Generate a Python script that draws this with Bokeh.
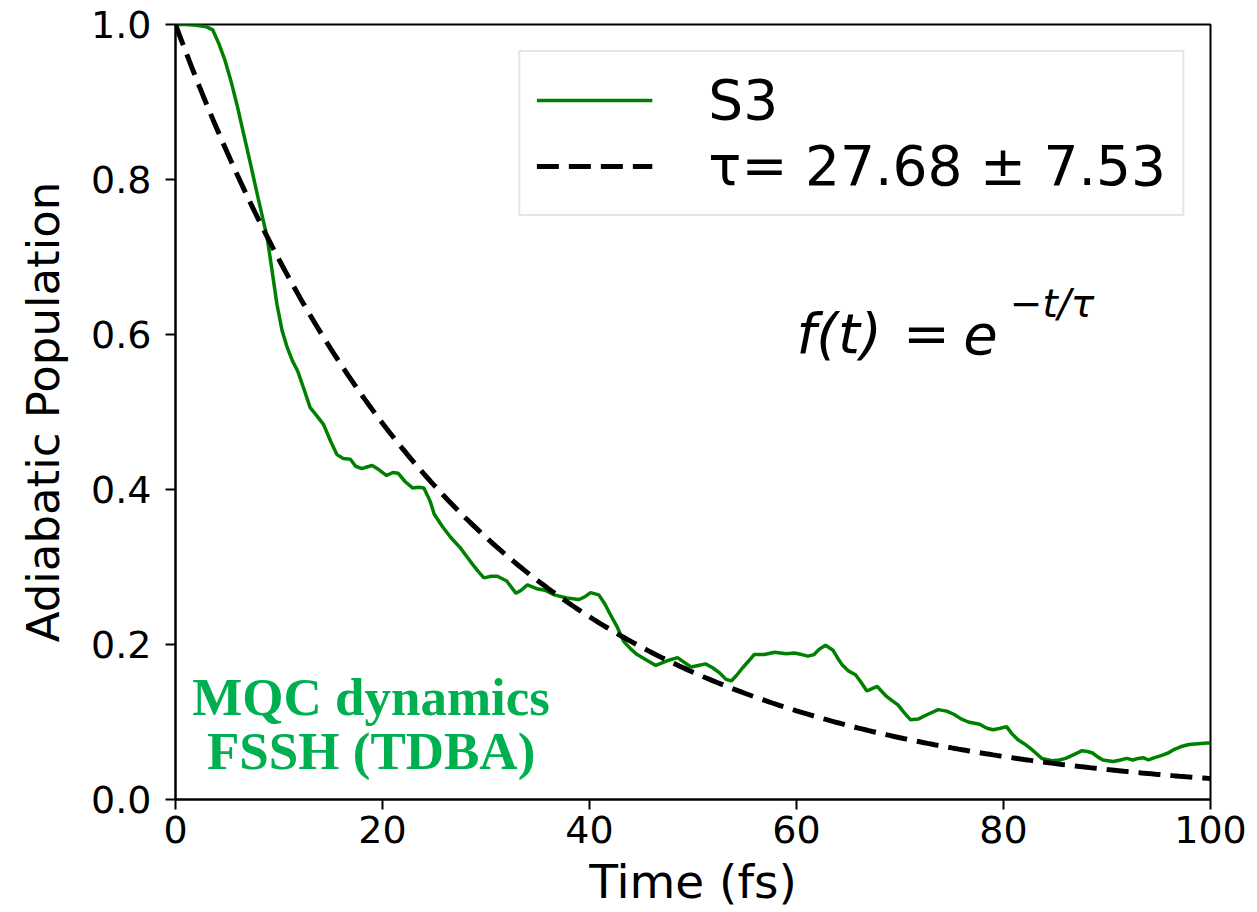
import numpy as np
from bokeh.plotting import figure
from bokeh.models import (Range1d, Legend, LegendItem, Label, FixedTicker,
                          NumeralTickFormatter)
from bokeh.embed import file_html
from bokeh.resources import INLINE

# ---------------- data ----------------
time_fs = [0, 1, 2, 3, 3.6, 4.2, 4.8, 5.4, 6.0, 6.6, 7.25, 8.0, 8.86, 9.3, 9.8,
           10.3, 10.8, 11.3, 11.8, 12.4, 13.0, 13.6, 14.3, 15.0, 15.6, 16.2, 16.9,
           17.4, 18.0, 18.5, 19.0, 19.6, 20.4, 21.0, 21.5, 22.2, 22.9, 23.5, 24.0,
           24.6, 25.0, 25.8, 26.6, 27.5, 28.5, 29.2, 29.8, 30.5, 31.1, 32.0, 32.9,
           33.4, 34.0, 34.9, 35.7, 36.6, 37.8, 39.0, 39.6, 40.1, 40.9, 41.5, 42.0,
           42.7, 43.3, 44.0, 44.6, 45.5, 46.4, 47.5, 48.5, 49.8, 50.5, 51.2, 51.9,
           52.6, 53.2, 53.7, 54.2, 54.8, 55.4, 55.9, 56.9, 57.9, 59.0, 59.8, 60.5,
           61.1, 61.7, 62.2, 62.8, 63.5, 64.0, 64.4, 65.0, 65.7, 66.2, 66.8, 67.3,
           67.8, 68.2, 68.7, 69.2, 69.8, 70.4, 71.0, 71.8, 72.7, 73.7, 74.5, 75.2,
           75.9, 76.6, 77.7, 78.4, 79.0, 79.7, 80.3, 80.8, 81.4, 82.0, 82.6, 83.2,
           83.7, 84.7, 85.4, 86.0, 86.8, 87.6, 88.1, 88.6, 89.1, 89.6, 90.6, 91.3,
           91.9, 92.5, 93.0, 93.5, 94.0, 94.6, 95.3, 95.9, 96.4, 97.1, 97.9, 98.8,
           99.7, 100]
s3_pop = [1.0, 1.0, 0.999, 0.997, 0.993, 0.975, 0.953, 0.925, 0.893, 0.858, 0.82,
          0.775, 0.725, 0.685, 0.639, 0.605, 0.583, 0.566, 0.553, 0.530, 0.506,
          0.496, 0.484, 0.462, 0.445, 0.440, 0.439, 0.430, 0.427, 0.429, 0.431,
          0.426, 0.418, 0.422, 0.421, 0.410, 0.402, 0.403, 0.402, 0.385, 0.368,
          0.352, 0.338, 0.325, 0.307, 0.295, 0.286, 0.288, 0.288, 0.282, 0.266,
          0.270, 0.277, 0.272, 0.270, 0.264, 0.260, 0.258, 0.262, 0.267, 0.264,
          0.252, 0.239, 0.222, 0.204, 0.194, 0.187, 0.180, 0.173, 0.179, 0.183,
          0.171, 0.173, 0.175, 0.170, 0.163, 0.155, 0.153, 0.160, 0.170, 0.179,
          0.187, 0.187, 0.190, 0.188, 0.189, 0.187, 0.185, 0.187, 0.194, 0.199,
          0.193, 0.182, 0.174, 0.166, 0.161, 0.152, 0.140, 0.143, 0.146, 0.140,
          0.133, 0.128, 0.122, 0.112, 0.103, 0.104, 0.110, 0.116, 0.114, 0.110,
          0.104, 0.100, 0.097, 0.092, 0.090, 0.092, 0.094, 0.085, 0.077, 0.072,
          0.066, 0.059, 0.053, 0.050, 0.051, 0.053, 0.058, 0.063, 0.062, 0.060,
          0.055, 0.051, 0.049, 0.051, 0.053, 0.051, 0.053, 0.054, 0.051, 0.054,
          0.057, 0.060, 0.064, 0.068, 0.071, 0.072, 0.073, 0.073]
tau = 27.68
tau_err = 7.53
x_ticks = [0, 20, 40, 60, 80, 100]
y_ticks = [0.0, 0.2, 0.4, 0.6, 0.8, 1.0]

fit_t = np.linspace(0, 100, 301)
fit_pop = np.exp(-fit_t / tau)

FONT = "DejaVu Sans"

p = figure(frame_width=1035, frame_height=775,
           min_border_left=175, min_border_right=47,
           min_border_top=24, min_border_bottom=113,
           x_range=Range1d(0, 100), y_range=Range1d(0, 1),
           output_backend="svg", toolbar_location=None)
p.background_fill_color = "white"
p.border_fill_color = "white"
p.outline_line_color = "black"
p.outline_line_width = 2
p.grid.visible = False

r_s3 = p.line(time_fs, s3_pop, line_color="#008000", line_width=3.5)
r_fit = p.line(fit_t, fit_pop, line_color="black", line_width=5, line_dash="22 10")

for ax in (p.xaxis[0], p.yaxis[0]):
    ax.axis_line_color = "black"
    ax.axis_line_width = 2
    ax.major_tick_line_color = "black"
    ax.major_tick_line_width = 2
    ax.major_tick_out = 10
    ax.major_tick_in = 0
    ax.minor_tick_line_color = None
    ax.major_label_text_font = FONT
    ax.major_label_text_font_size = "38px"
    ax.major_label_text_color = "black"
    ax.axis_label_text_font = FONT
    ax.axis_label_text_font_style = "normal"
    ax.axis_label_text_color = "black"

p.xaxis.axis_label_text_font_size = "47px"
p.yaxis.axis_label_text_font_size = "45px"
p.xaxis.ticker = FixedTicker(ticks=x_ticks)
p.yaxis.ticker = FixedTicker(ticks=y_ticks)
p.yaxis.formatter = NumeralTickFormatter(format="0.0")
p.xaxis.axis_label = "Time (fs)"
p.yaxis.axis_label = "Adiabatic Population"
p.xaxis.major_label_standoff = 6
p.xaxis.axis_label_standoff = 8
p.yaxis.major_label_standoff = 14
p.yaxis.axis_label_standoff = 18

legend = Legend(items=[
    LegendItem(label="S3", renderers=[r_s3]),
    LegendItem(label=f"τ= {tau:.2f} ± {tau_err:.2f}", renderers=[r_fit]),
], location="top_right", margin=26, padding=16, spacing=2,
    glyph_width=116, glyph_height=40, label_standoff=56,
    label_text_font=FONT, label_text_font_size="55px", label_text_color="black",
    border_line_color="#cccccc", border_line_width=2,
    background_fill_color="white", background_fill_alpha=0.8)
p.add_layout(legend)

# formula f(t) = e^{-t/tau}
p.add_layout(Label(x=60.0, y=0.601, text="f(t)", text_font=FONT, text_font_style="italic",
                   text_font_size="56px", text_baseline="alphabetic", text_color="black"))
p.add_layout(Label(x=70.3, y=0.601, text="=", text_font=FONT,
                   text_font_size="56px", text_baseline="alphabetic", text_color="black"))
p.add_layout(Label(x=76.1, y=0.601, text="e", text_font=FONT, text_font_style="italic",
                   text_font_size="56px", text_baseline="alphabetic", text_color="black"))
p.add_layout(Label(x=80.6, y=0.640, text="−t/τ", text_font=FONT, text_font_style="italic",
                   text_font_size="39px", text_baseline="alphabetic", text_color="black"))

# method annotation
for txt, yy in (("MQC dynamics", 0.132), ("FSSH (TDBA)", 0.063)):
    p.add_layout(Label(x=18.9, y=yy, text=txt, text_font="Liberation Serif",
                       text_font_style="bold", text_font_size="53px",
                       text_align="center", text_baseline="alphabetic",
                       text_color="#00B050"))

open("out.html", "w").write(file_html(p, INLINE))
